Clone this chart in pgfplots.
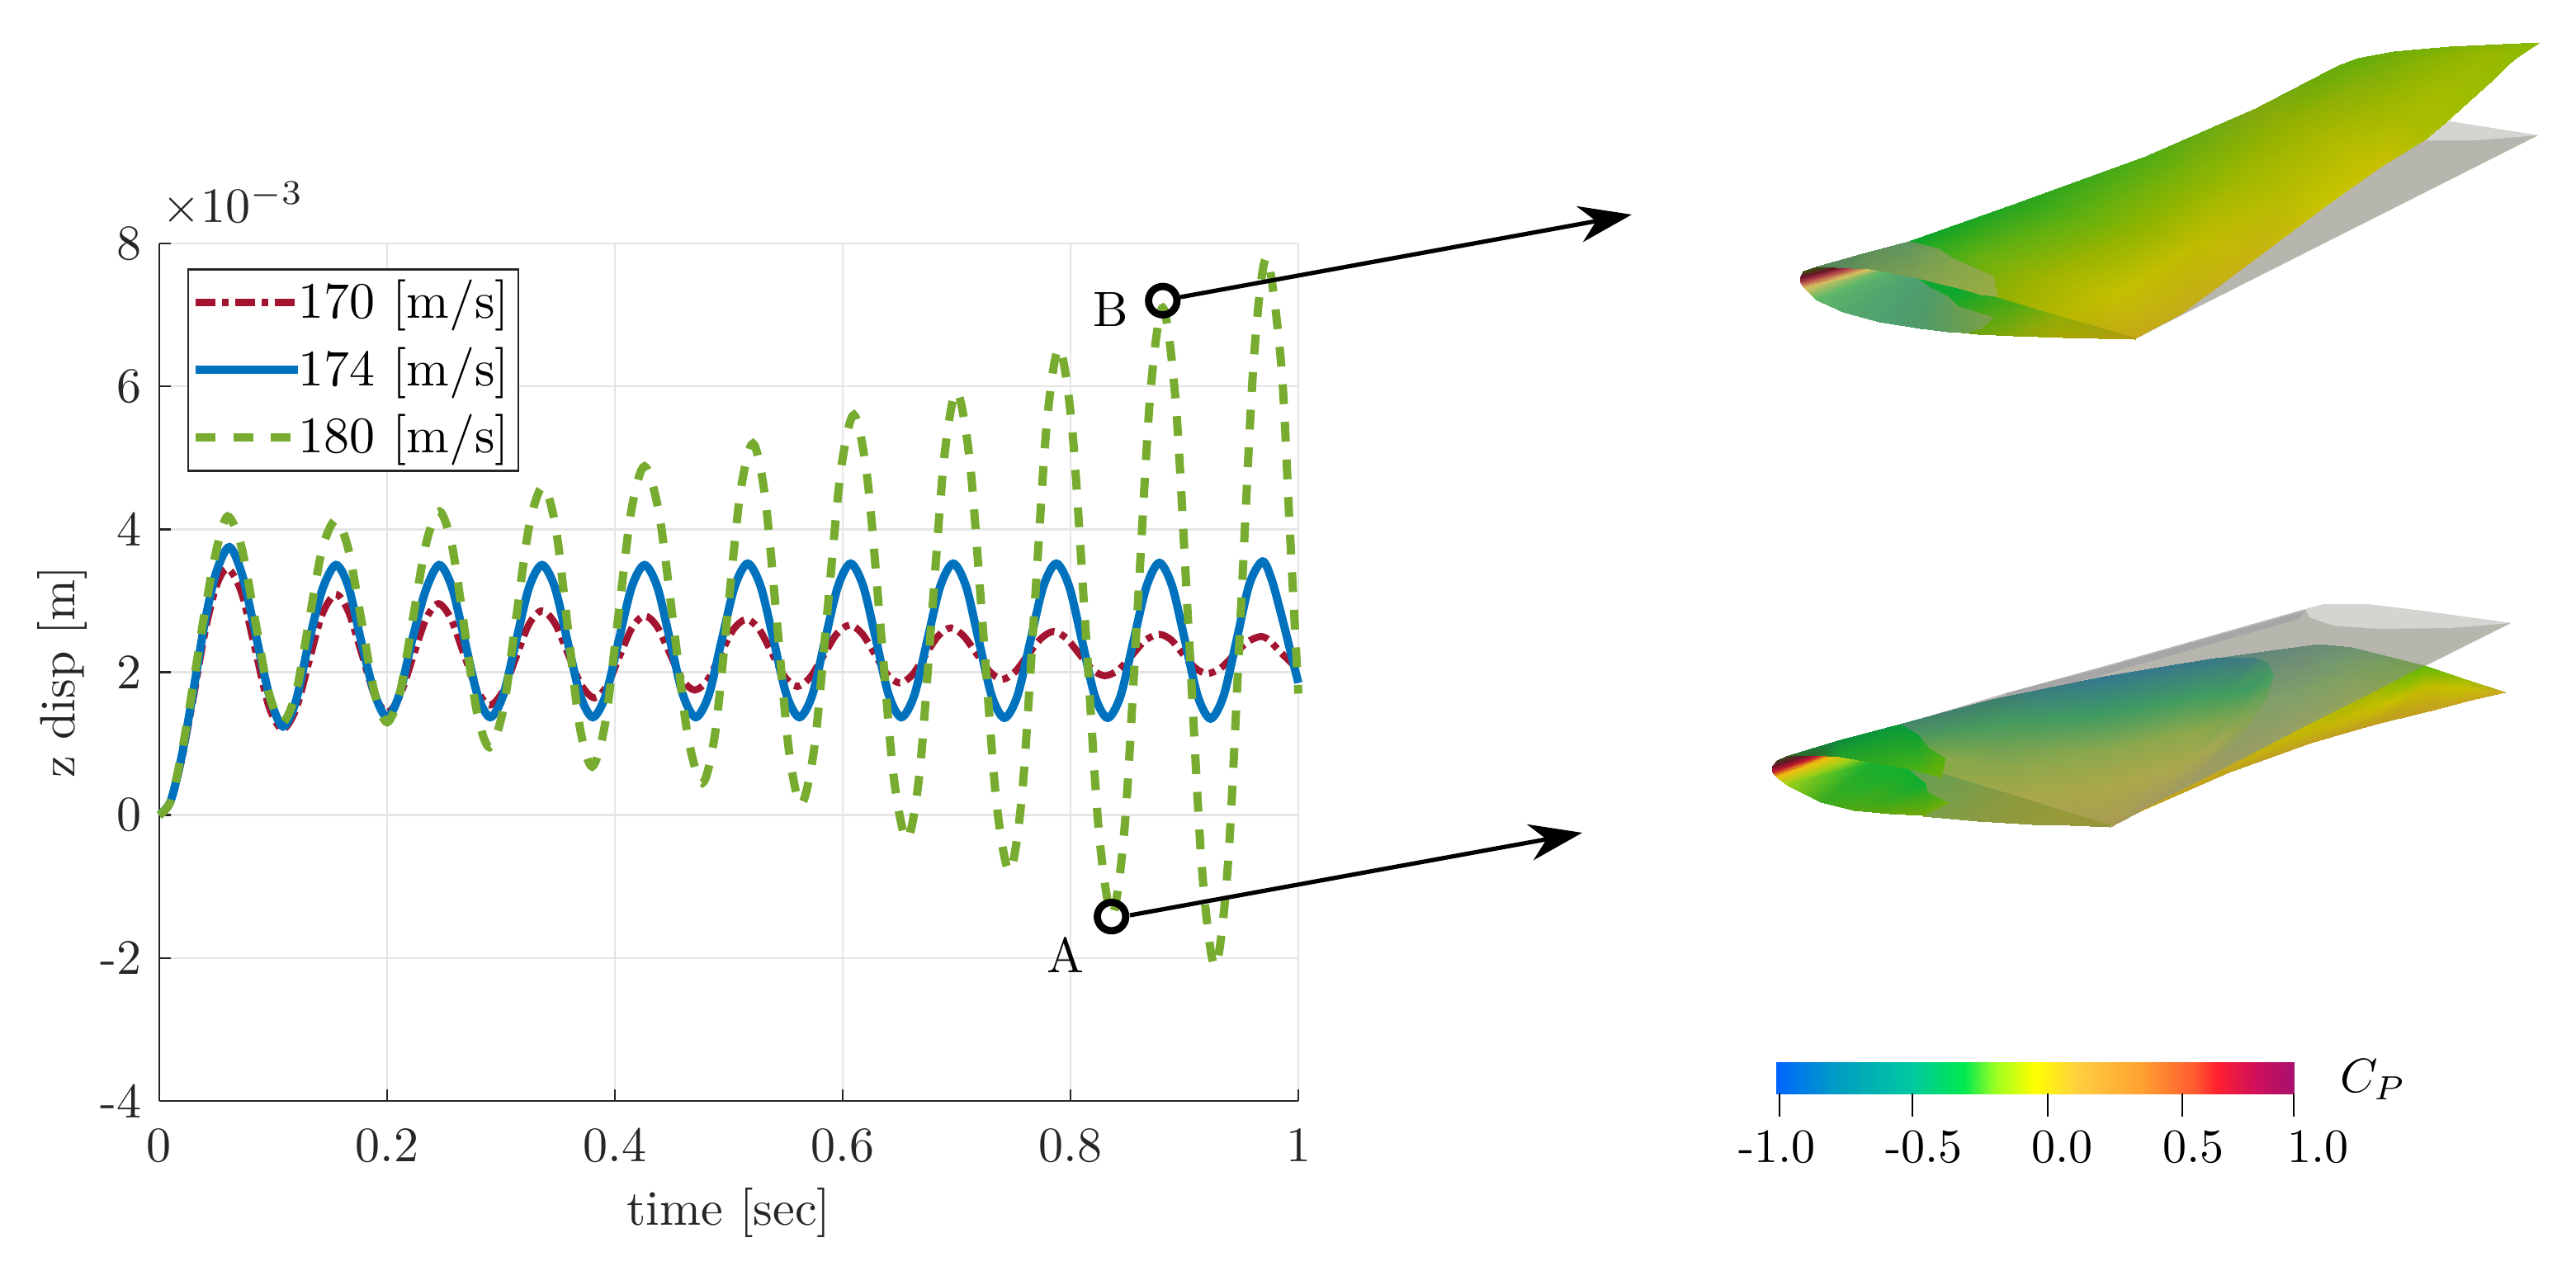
\documentclass[border=0pt]{standalone}
\usepackage{pgfplots}
\pgfplotsset{compat=1.18}
\usetikzlibrary{arrows.meta}

\definecolor{c170}{RGB}{162,20,47}
\definecolor{c174}{RGB}{0,114,189}
\definecolor{c180}{RGB}{119,172,48}
\definecolor{axgray}{gray}{0.15}
\definecolor{wgray}{RGB}{183,182,174}
\definecolor{wlight}{RGB}{212,212,208}

% z displacement, in units of 1e-3 m
\pgfplotstableread{
t z
0 0
.01 .18
.02 .8
.03 1.65
.04 2.55
.05 3.2
.06 3.45
.072 3.12
.084 2.33
.096 1.53
.108 1.2
.12 1.48
.1315 2.15
.143 2.81
.155 3.09
.166 2.85
.1775 2.27
.189 1.68
.2 1.44
.211 1.66
.2225 2.2
.234 2.74
.245 2.96
.256 2.75
.2675 2.25
.279 1.75
.29 1.54
.3015 1.73
.313 2.2
.3245 2.67
.336 2.86
.3475 2.68
.359 2.25
.3705 1.82
.382 1.64
.393 1.81
.404 2.22
.415 2.62
.426 2.79
.437 2.64
.448 2.27
.459 1.9
.47 1.75
.4814 1.89
.4928 2.25
.5041 2.6
.5155 2.74
.5266 2.6
.5378 2.27
.5489 1.94
.56 1.8
.5715 1.93
.583 2.23
.5945 2.53
.606 2.66
.617 2.54
.628 2.26
.639 1.97
.65 1.85
.661 1.96
.6725 2.24
.684 2.51
.695 2.62
.706 2.51
.7175 2.26
.729 2.01
.74 1.9
.751 2.0
.7625 2.24
.774 2.47
.785 2.57
.796 2.48
.8075 2.26
.819 2.04
.83 1.95
.842 2.03
.854 2.24
.866 2.45
.878 2.53
.8885 2.45
.899 2.25
.9095 2.06
.92 1.98
.932 2.06
.9435 2.24
.955 2.42
.967 2.5
.975 2.44
.983 2.3
.992 2.16
1.0 2.03
}\vA

\pgfplotstableread{
t z
0 0
.01 .2
.02 .85
.03 1.75
.04 2.7
.05 3.4
.0616 3.75
.073 3.35
.085 2.5
.097 1.65
.1086 1.24
.12 1.6
.131 2.4
.143 3.15
.155 3.5
.166 3.2
.177 2.45
.189 1.7
.2 1.37
.211 1.7
.222 2.45
.234 3.15
.2457 3.5
.2569 3.19
.2682 2.44
.2794 1.68
.2906 1.37
.302 1.68
.3133 2.44
.3247 3.19
.336 3.5
.3472 3.19
.3583 2.44
.3695 1.68
.3806 1.37
.392 1.68
.4033 2.44
.4147 3.19
.426 3.5
.4373 3.19
.4485 2.44
.4598 1.68
.471 1.37
.4824 1.68
.4938 2.45
.5052 3.2
.5166 3.52
.528 3.2
.5393 2.45
.5507 1.68
.562 1.37
.5733 1.68
.5845 2.45
.5958 3.2
.607 3.52
.6181 3.2
.6293 2.45
.6404 1.68
.6515 1.37
.6629 1.68
.6743 2.45
.6856 3.2
.697 3.52
.7083 3.2
.7195 2.44
.7308 1.67
.742 1.36
.7534 1.67
.7648 2.44
.7761 3.2
.7875 3.52
.7988 3.2
.8101 2.44
.8213 1.67
.8326 1.36
.844 1.67
.8553 2.44
.8667 3.2
.878 3.53
.8893 3.2
.9005 2.44
.9118 1.66
.923 1.35
.9344 1.67
.9458 2.45
.9572 3.24
.9686 3.55
.9765 3.3
.9843 2.85
.9922 2.35
1.0 1.85
}\vB

\pgfplotstableread{
t z
0 0
.01 .2
.02 .9
.03 1.85
.04 2.85
.05 3.7
.06 4.18
.072 3.76
.084 2.74
.096 1.72
.108 1.3
.12 1.71
.1315 2.72
.143 3.72
.155 4.13
.166 3.72
.1775 2.72
.189 1.71
.2 1.3
.2115 1.73
.223 2.78
.2345 3.82
.246 4.25
.257 3.77
.268 2.6
.279 1.43
.29 .95
.302 1.48
.3135 2.78
.325 4.07
.337 4.6
.348 4.03
.3585 2.64
.369 1.25
.38 .68
.3915 1.29
.403 2.78
.4145 4.27
.426 4.88
.4387 4.23
.4514 2.67
.4641 1.1
.4768 .45
.4879 1.14
.499 2.83
.5101 4.51
.5212 5.2
.5318 4.46
.5424 2.68
.5529 .89
.5635 .15
.5751 .95
.5867 2.88
.5982 4.8
.6098 5.6
.6215 4.73
.6332 2.63
.6448 .53
.6565 -.34
.6674 .58
.6783 2.8
.6891 5.0
.7 5.93
.7116 4.95
.7233 2.57
.7349 .19
.7465 -.79
.7574 .28
.7683 2.88
.7791 5.47
.79 6.54
.8016 5.38
.8133 2.58
.8249 -.23
.8365 -1.39
.8476 -.15
.8588 2.86
.8699 5.86
.881 7.1
.8925 5.75
.904 2.49
.9155 -.77
.927 -2.12
.9383 -.67
.9495 2.84
.9608 6.35
.972 7.8
.985 6.3
.9925 4.0
1.0 1.7
}\vC

\begin{document}
\begin{tikzpicture}
\path[use as bounding box] (0,0) rectangle (780.25pt,383.25pt);

\begin{axis}[
  at={(48.25pt,49.75pt)}, anchor=south west,
  scale only axis, width=345pt, height=259.75pt,
  xmin=0, xmax=1, ymin=-4, ymax=8,
  xtick={0,0.2,0.4,0.6,0.8,1},
  xticklabels={0,0.2,0.4,0.6,0.8,1},
  ytick={-4,-2,0,2,4,6,8},
  yticklabels={-4,-2,0,2,4,6,8},
  axis x line*=bottom, axis y line*=left,
  axis line style={-, axgray, line width=0.6pt},
  tick align=inside, major tick length=3.6pt,
  tick style={axgray, line width=0.6pt},
  grid=major, major grid style={black!10, line width=0.6pt},
  tick label style={scale=1.5, text=axgray},
  xticklabel style={yshift=-2pt},
  ylabel style={scale=1.5, text=axgray, at={(axis description cs:-0.085,0.5)}, anchor=center},
  xlabel style={scale=1.5, text=axgray, at={(axis description cs:0.5,-0.13)}, anchor=center},
  xlabel={time [sec]}, ylabel={z disp [m]},
  clip=false,
  legend cell align=left,
  legend style={at={(0.0246,0.971)}, anchor=north west, nodes={scale=1.55, inner xsep=1.2pt},
    draw=axgray, line width=0.6pt, inner xsep=1pt, inner ysep=0pt, row sep=0.3pt,
    /tikz/every odd column/.append style={column sep=-3pt}},
  legend image code/.code={\draw[#1] (0pt,0pt) -- (31pt,0pt);},
]
\addplot[c170, line width=2.1pt, smooth, dash pattern=on 6pt off 2pt on 2pt off 2pt] table[x=t,y=z] {\vA};
\addplot[c174, line width=2.5pt, smooth] table[x=t,y=z] {\vB};
\addplot[c180, line width=2.5pt, smooth, dash pattern=on 6pt off 5.4pt] table[x=t,y=z] {\vC};
\legend{170 [m/s],174 [m/s],180 [m/s]}
\addplot[only marks, mark=o, mark size=4.3pt, mark options={black, fill=none, line width=2.2pt}, forget plot] coordinates {(.881,7.2) (.836,-1.42)};
\node[scale=1.5, text=black] at (axis cs:.835,7.08) {B};
\node[scale=1.5, text=black] at (axis cs:.796,-1.96) {A};
\node[scale=1.5, text=axgray, anchor=west, inner sep=0pt] at (axis cs:0.002,8.55) {$\times 10^{-3}$};
\end{axis}

% right hand side, in picture pixels
\begin{axis}[
  at={(0pt,0pt)}, anchor=south west,
  scale only axis, width=780.25pt, height=383.25pt,
  xmin=0, xmax=3121, ymin=0, ymax=1533, y dir=reverse,
  hide axis, clip=false,
]
% arrows
\addplot[black, line width=1.3pt, -{Stealth[length=16pt,width=11pt,inset=5pt]}] coordinates {(1430,360) (1977,260)};
\addplot[black, line width=1.3pt, -{Stealth[length=16pt,width=11pt,inset=5pt]}] coordinates {(1369,1109) (1917,1009)};

% wing in position B
\addplot[fill=wgray, draw=none] coordinates {(2587,411) (2647,380) (3075,164) (2967,147) (2780,230)} --cycle;
\addplot[fill=wlight, draw=none] coordinates {(2967,147) (3075,164) (3000,170) (2930,170)} --cycle;
\addplot[surf, shader=interp, mesh/color input=explicit, mesh/cols=5] table[meta=c] {
x y c
2203 323 rgb255=10,165,48
2320 336 rgb255=48,168,32
2427 363 rgb255=152,176,0
2500 385 rgb255=184,184,0
2587 410 rgb255=196,168,24
2313 293 rgb255=12,165,42
2395 315 rgb255=104,176,16
2478 337 rgb255=160,180,0
2560 358 rgb255=196,192,0
2643 380 rgb255=196,172,24
2443 247 rgb255=37,165,32
2516 264 rgb255=96,176,16
2588 280 rgb255=144,180,0
2661 297 rgb255=192,188,0
2733 313 rgb255=200,180,16
2600 190 rgb255=80,172,20
2654 205 rgb255=124,178,8
2709 220 rgb255=160,184,0
2763 235 rgb255=180,188,0
2817 250 rgb255=200,196,0
2733 132 rgb255=128,168,16
2771 150 rgb255=148,176,0
2808 168 rgb255=168,184,0
2846 185 rgb255=184,190,0
2883 203 rgb255=200,192,0
2833 80 rgb255=100,172,12
2860 102 rgb255=136,176,8
2887 124 rgb255=156,182,0
2913 146 rgb255=170,188,0
2940 168 rgb255=172,190,0
2857 71 rgb255=100,174,12
2885 90 rgb255=128,176,8
2912 108 rgb255=152,182,0
2940 127 rgb255=168,188,0
2967 145 rgb255=164,190,0
2900 63 rgb255=112,174,10
2929 72 rgb255=132,178,4
2959 82 rgb255=148,182,0
2988 91 rgb255=156,186,0
3017 100 rgb255=150,188,0
2967 57 rgb255=124,178,8
2987 61 rgb255=140,180,0
3006 65 rgb255=150,184,0
3026 69 rgb255=152,186,0
3045 73 rgb255=144,188,0
3076 52 rgb255=136,184,0
3076 52 rgb255=136,184,0
3076 52 rgb255=136,184,0
3076 52 rgb255=136,184,0
3076 52 rgb255=136,184,0
};
\addplot[surf, shader=interp, mesh/color input=explicit, mesh/cols=2] table[meta=c] {
x y c
2320 336 rgb255=10,168,56
2327 398 rgb255=64,160,32
2377 350 rgb255=10,168,48
2397 405 rgb255=110,165,10
2427 363 rgb255=64,168,24
2440 407 rgb255=136,168,8
2493 383 rgb255=144,172,8
2500 409 rgb255=168,168,0
2587 410 rgb255=176,156,16
2587 411 rgb255=176,156,16
};
\addplot[surf, shader=interp, mesh/color input=explicit, mesh/cols=2] table[meta=c] {
x y c
2203 323 rgb255=58,80,16
2185 329 rgb255=58,80,16
2232 324 rgb255=106,16,40
2181 337 rgb255=106,16,40
2247 324 rgb255=176,64,72
2182 343 rgb255=176,64,72
2267 326 rgb255=216,192,96
2187 350 rgb255=216,192,96
2283 329 rgb255=96,184,104
2200 363 rgb255=96,184,104
2300 332 rgb255=85,168,108
2233 378 rgb255=85,168,108
2320 336 rgb255=79,160,112
2277 390 rgb255=79,160,112
2340 350 rgb255=79,155,104
2327 398 rgb255=79,155,104
2360 360 rgb255=95,158,92
2360 402 rgb255=95,158,92
2373 372 rgb255=106,158,80
2383 403 rgb255=106,158,80
2415 385 rgb255=126,160,72
2400 398 rgb255=126,160,72
};
\addplot[surf, shader=interp, mesh/color input=explicit, mesh/cols=2] table[meta=c] {
x y c
2203 323 rgb255=86,136,90
2225 324 rgb255=86,136,90
2260 307 rgb255=95,143,88
2267 326 rgb255=110,150,84
2313 293 rgb255=95,148,96
2320 336 rgb255=127,160,80
2350 302 rgb255=117,160,80
2360 346 rgb255=143,168,74
2363 312 rgb255=128,165,76
2377 350 rgb255=146,170,70
2387 323 rgb255=138,168,74
2400 357 rgb255=150,172,66
2415 335 rgb255=146,170,68
2420 359 rgb255=152,172,66
};

% wing in position A
\addplot[fill=wgray, draw=none] coordinates {(2302,878) (2430,840) (2550,807) (2793,738) (2817,732) (2867,732) (2933,740) (3042,755) (2938,807) (2557,1002)} --cycle;
\addplot[fill=black!35, draw=none] coordinates {(2430,840) (2550,809) (2793,740) (2785,750) (2550,817) (2430,850)} --cycle;
\addplot[fill=wlight, draw=none] coordinates {(2793,738) (2798,748) (2827,758) (2883,762) (2967,761) (3042,755) (2933,740) (2867,732) (2817,732)} --cycle;
\addplot[surf, shader=interp, mesh/color input=explicit, mesh/cols=3] table[meta=c] {
x y c
2550 820 rgb255=70,125,130
2553 911 rgb255=120,150,90
2559 1001 rgb255=164,154,98
2693 797 rgb255=95,138,128
2643 890 rgb255=120,158,100
2593 983 rgb255=164,154,98
2750 789 rgb255=98,136,122
2715 865 rgb255=132,160,106
2680 941 rgb255=160,156,96
2810 781 rgb255=106,138,120
2788 838 rgb255=126,160,104
2767 894 rgb255=154,160,102
2850 785 rgb255=111,148,112
2850 818 rgb255=128,160,96
2850 851 rgb255=146,164,92
2938 807 rgb255=120,160,80
2938 807 rgb255=120,160,80
2938 807 rgb255=120,160,80
};
\addplot[surf, shader=interp, mesh/color input=explicit, mesh/cols=5] table[meta=c] {
x y c
2302 878 rgb255=69,133,106
2323 890 rgb255=76,148,96
2335 905 rgb255=104,160,80
2357 920 rgb255=138,168,74
2340 935 rgb255=140,168,72
2413 848 rgb255=62,126,112
2417 877 rgb255=69,154,94
2421 906 rgb255=112,162,84
2426 935 rgb255=144,168,74
2430 965 rgb255=166,168,74
2550 820 rgb255=52,120,144
2552 865 rgb255=63,154,98
2554 910 rgb255=140,168,78
2556 955 rgb255=172,168,72
2557 1001 rgb255=168,156,82
2683 798 rgb255=58,120,136
2660 845 rgb255=66,156,96
2638 890 rgb255=140,168,76
2615 937 rgb255=172,168,78
2593 983 rgb255=164,154,96
2730 797 rgb255=63,122,128
2702 840 rgb255=64,156,94
2673 884 rgb255=140,168,74
2645 927 rgb255=170,168,76
2617 970 rgb255=162,154,94
2747 803 rgb255=74,140,108
2727 835 rgb255=63,156,96
2707 868 rgb255=120,164,84
2687 900 rgb255=164,168,80
2667 933 rgb255=164,156,92
2754 818 rgb255=69,160,96
2750 832 rgb255=88,160,92
2747 843 rgb255=102,162,88
2733 866 rgb255=128,164,84
2717 887 rgb255=146,164,90
};
\addplot[surf, shader=interp, mesh/color input=explicit, mesh/cols=3] table[meta=c] {
x y c
2593 983 rgb255=192,160,32
2593 983 rgb255=192,160,32
2593 983 rgb255=192,160,32
2700 929 rgb255=196,172,24
2700 932 rgb255=196,172,24
2700 936 rgb255=192,160,32
2800 877 rgb255=192,188,0
2800 888 rgb255=196,180,8
2800 900 rgb255=192,160,32
2880 837 rgb255=164,184,0
2880 857 rgb255=200,192,0
2880 877 rgb255=192,156,32
2938 807 rgb255=96,184,8
2944 833 rgb255=196,188,0
2950 860 rgb255=196,160,32
2985 823 rgb255=160,188,0
2990 835 rgb255=200,192,0
2995 848 rgb255=200,168,32
3035 839 rgb255=200,168,32
3035 839 rgb255=200,168,32
3035 839 rgb255=200,168,32
};
\addplot[surf, shader=interp, mesh/color input=explicit, mesh/cols=2] table[meta=c] {
x y c
2310 929 rgb255=95,158,88
2330 989 rgb255=126,160,72
2357 939 rgb255=108,158,80
2397 995 rgb255=140,154,64
2430 961 rgb255=138,154,64
2463 999 rgb255=150,154,56
2497 982 rgb255=150,154,58
2510 1000 rgb255=150,150,58
2557 1000 rgb255=154,148,56
2557 1002 rgb255=154,148,56
};
\addplot[surf, shader=interp, mesh/color input=explicit, mesh/cols=2] table[meta=c] {
x y c
2167 916 rgb255=58,64,32
2153 922 rgb255=58,64,32
2190 915 rgb255=106,20,40
2147 930 rgb255=106,20,40
2207 915 rgb255=192,24,48
2148 936 rgb255=192,24,48
2222 916 rgb255=240,192,16
2153 942 rgb255=240,192,16
2245 920 rgb255=156,208,24
2165 951 rgb255=156,208,24
2270 924 rgb255=24,176,48
2207 972 rgb255=60,170,30
2310 931 rgb255=16,176,48
2247 982 rgb255=80,168,20
2333 950 rgb255=16,172,48
2290 986 rgb255=96,168,12
2335 960 rgb255=48,172,32
2330 988 rgb255=112,168,8
2360 973 rgb255=112,174,8
2330 988 rgb255=112,174,8
};
\addplot[surf, shader=interp, mesh/color input=explicit, mesh/cols=2] table[meta=c] {
x y c
2167 916 rgb255=42,106,42
2197 915 rgb255=42,106,42
2230 897 rgb255=12,142,62
2230 917 rgb255=32,160,40
2302 878 rgb255=8,153,60
2310 931 rgb255=64,176,24
2323 890 rgb255=12,160,52
2325 935 rgb255=76,176,20
2335 905 rgb255=48,168,36
2338 938 rgb255=96,176,12
2357 920 rgb255=88,176,12
2352 942 rgb255=108,176,10
};

% colour bar
\addplot[surf, shader=interp, mesh/color input=explicit, mesh/cols=2] table[meta=c] {
x y c
2152 1287 rgb255=0,102,255
2152 1325 rgb255=0,102,255
2230 1287 rgb255=0,160,192
2230 1325 rgb255=0,160,192
2315 1287 rgb255=0,200,160
2315 1325 rgb255=0,200,160
2380 1287 rgb255=0,232,80
2380 1325 rgb255=0,232,80
2419 1287 rgb255=160,255,32
2419 1325 rgb255=160,255,32
2465 1287 rgb255=255,255,0
2465 1325 rgb255=255,255,0
2517 1287 rgb255=255,208,64
2517 1325 rgb255=255,208,64
2595 1287 rgb255=255,160,48
2595 1325 rgb255=255,160,48
2660 1287 rgb255=255,90,48
2660 1325 rgb255=255,90,48
2686 1287 rgb255=255,32,48
2686 1325 rgb255=255,32,48
2732 1287 rgb255=208,16,90
2732 1325 rgb255=208,16,90
2779 1287 rgb255=168,16,110
2779 1325 rgb255=168,16,110
};
\addplot[black, line width=0.5pt] coordinates {(2156,1325) (2156,1353)};
\addplot[black, line width=0.5pt] coordinates {(2317,1325) (2317,1353)};
\addplot[black, line width=0.5pt] coordinates {(2481,1325) (2481,1353)};
\addplot[black, line width=0.5pt] coordinates {(2644,1325) (2644,1353)};
\addplot[black, line width=0.5pt] coordinates {(2779,1325) (2779,1353)};
\node[scale=1.45] at (axis cs:2153,1390) {-1.0};
\node[scale=1.45] at (axis cs:2331,1390) {-0.5};
\node[scale=1.45] at (axis cs:2498,1390) {0.0};
\node[scale=1.45] at (axis cs:2657,1390) {0.5};
\node[scale=1.45] at (axis cs:2808,1390) {1.0};
\node[scale=1.45] at (axis cs:2875,1308) {$C_P$};
\end{axis}
\end{tikzpicture}
\end{document}
